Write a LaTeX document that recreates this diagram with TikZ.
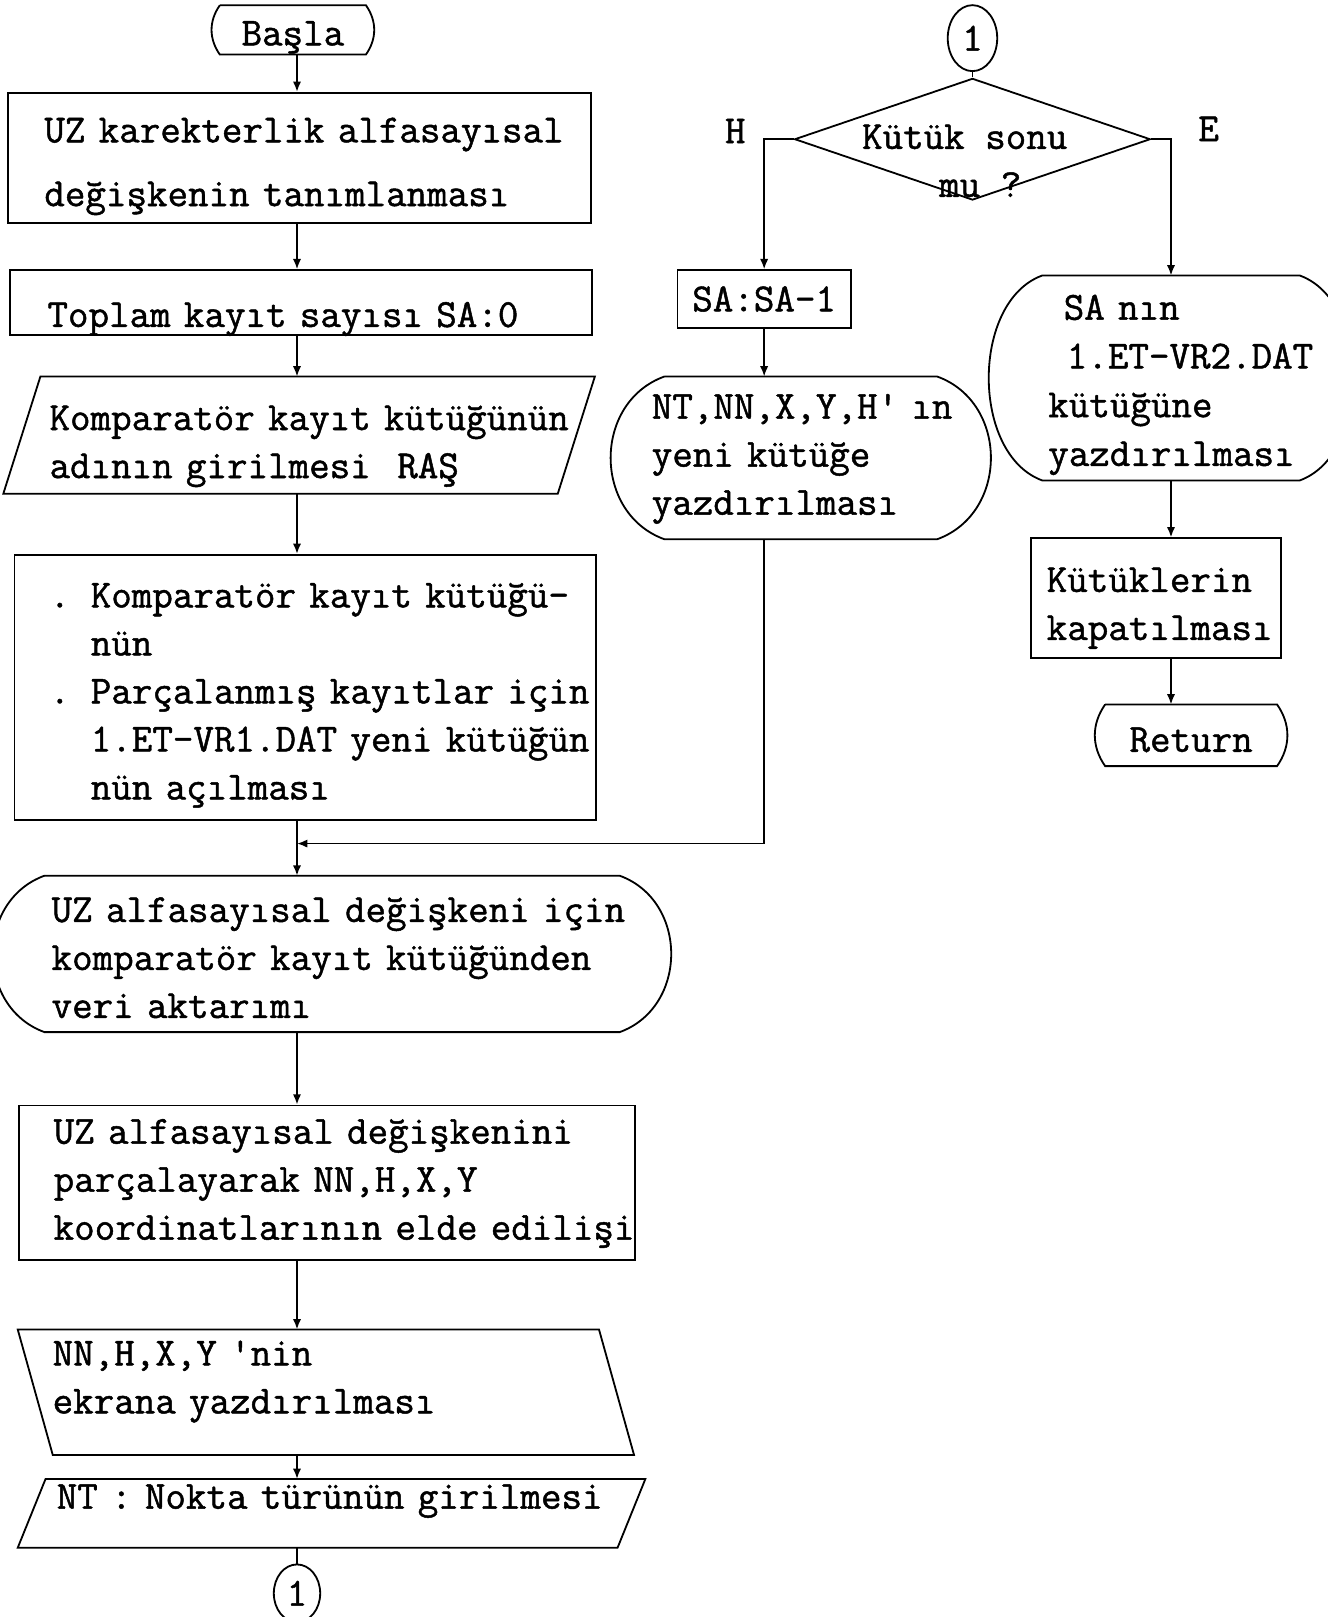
\documentclass[tikz,border=0pt]{standalone}
\usepackage{fontspec}
\setmonofont{lmmono12-regular.otf}[FakeBold=1.2]
\usepackage{tikz}
\usetikzlibrary{arrows.meta, shapes.geometric}

\begin{document}
\begin{tikzpicture}[x=0.02cm, y=-0.02cm, line width=1pt,
	font=\ttfamily\fontsize{22}{26.5}\selectfont,
	kutu/.style={draw, rectangle, align=left, inner ysep=0pt},
	serbest/.style={rectangle, align=left, inner ysep=0pt},
	uc/.style={rectangle, inner sep=0pt},
	baglac/.style={draw, ellipse, inner sep=0pt},
	ok/.style={-{Latex[length=2mm, width=1.6mm]}}]
	\useasboundingbox (0,0) rectangle (1287,1568);
	\coordinate (eksen) at (288,0);
	% left column
	\node[uc, minimum width=2.8cm, minimum height=0.92cm, text height=0.7cm, text depth=0.1cm] (basla) at (284,29) {Başla};
	\draw (basla.north west) -- (basla.north east) to[bend left=35] (basla.south east) -- (basla.south west) to[bend left=35] (basla.north west);
	\node[kutu, text width=9.9cm, inner xsep=0.7cm, minimum height=2.52cm, text height=0.84cm, text depth=1.44cm, font=\ttfamily\fontsize{22}{35.2}\selectfont] (tanim) at (290.5,153) {\mbox{UZ karekterlik alfasayısal}\\değişkenin tanımlanması};
	\node[kutu, text width=9.84cm, inner xsep=0.72cm, minimum height=1.26cm, text height=1.04cm, text depth=0.1cm] (kayitsay) at (292,293.5) {Toplam kayıt sayısı SA:0};
	\node[serbest, text width=9.68cm, inner xsep=0.52cm, minimum height=2.24cm, text height=0.93cm, text depth=1.13cm] (kayitadi) at (290,422) {\mbox{Komparatör kayıt kütüğünün}\\adının girilmesi~~RAŞ};
	\draw ([xshift=0.36cm]kayitadi.north west) -- ([xshift=0.36cm]kayitadi.north east) -- ([xshift=-0.36cm]kayitadi.south east) -- ([xshift=-0.36cm]kayitadi.south west) -- cycle;
	\node[kutu, text width=9.92cm, inner xsep=0.68cm, minimum height=5.14cm, text height=0.83cm, text depth=3.93cm] (acilis) at (296,666.5) {\mbox{\makebox[0.8cm][l]{.}Komparatör kayıt kütüğü-}\\\mbox{\hspace*{0.8cm}nün}\\\mbox{\makebox[0.8cm][l]{.}Parçalanmış kayıtlar için}\\\mbox{\hspace*{0.8cm}1.ET-VR1.DAT yeni kütüğün}\\\mbox{\hspace*{0.8cm}nün açılması}};
	\node[serbest, text width=10.88cm, inner xsep=0.12cm, minimum height=3cm, text height=0.82cm, text depth=2.06cm] (veri) at (322,925) {\mbox{UZ alfasayısal değişkeni için}\\\mbox{komparatör kayıt kütüğünden}\\veri aktarımı};
	\draw (veri.north west) -- (veri.north east) to[bend left=70, looseness=1.2] (veri.south east) -- (veri.south west) to[bend left=70, looseness=1.2] (veri.north west);
	\node[kutu, text width=10.6cm, inner xsep=0.68cm, minimum height=3cm, text height=0.54cm, text depth=2.06cm] (ayir) at (317,1147) {\mbox{UZ alfasayısal değişkenini}\\parçalayarak NN,H,X,Y\\\mbox{koordinatlarının elde edilişi}};
	\node[serbest, text width=10.6cm, inner xsep=0.32cm, minimum height=2.4cm, text height=0.09cm, text depth=1.13cm] (ekran) at (316,1350) {NN,H,X,Y 'nin\\ekrana yazdırılması};
	\draw ([xshift=-0.34cm]ekran.north west) -- ([xshift=-0.34cm]ekran.north east) -- ([xshift=0.34cm]ekran.south east) -- ([xshift=0.34cm]ekran.south west) -- cycle;
	\node[serbest, text width=10.66cm, inner xsep=0.47cm, minimum height=1.3cm, text height=0.02cm, text depth=0.2cm] (nt) at (321.5,1467.5) {\mbox{NT : Nokta türünün girilmesi}};
	\draw ([xshift=0.27cm]nt.north west) -- ([xshift=0.27cm]nt.north east) -- ([xshift=-0.27cm]nt.south east) -- ([xshift=-0.27cm]nt.south west) -- cycle;
	\node[baglac, minimum width=0.9cm, minimum height=1.12cm] (baglac2) at (288,1545) {1};
	% right column
	\node[baglac, minimum width=0.96cm, minimum height=1.28cm] (baglac1) at (943,37) {1};
	\node[draw, diamond, minimum width=6.9cm, minimum height=2.36cm, inner sep=0pt, label={[align=center, yshift=-0.42cm]center:Kütük sonu\hspace*{0.3cm}\\\hspace*{0.3cm}mu ?}] (kosul) at (943,135) {};
	\node (hayir) at (713,127) {H};
	\node (evet) at (1172,125) {E};
	\node[kutu, minimum width=3.36cm, minimum height=1.12cm] (sasa) at (741,290) {SA:SA-1};
	\node[serbest, text width=5.78cm, inner xsep=-0.26cm, minimum height=3.12cm, text height=0.54cm, text depth=2.06cm] (ntyeni) at (776.5,444) {\mbox{NT,NN,X,Y,H' ın}\\yeni kütüğe\\yazdırılması};
	\draw (ntyeni.north west) -- (ntyeni.north east) to[bend left=70, looseness=1.2] (ntyeni.south east) -- (ntyeni.south west) to[bend left=70, looseness=1.2] (ntyeni.north west);
	\node[serbest, text width=4.76cm, inner xsep=0.1cm, minimum height=3.94cm, text height=0.78cm, text depth=3.04cm, font=\ttfamily\fontsize{22}{26.9}\selectfont] (sanin) at (1135.5,366.5) {\hspace*{0.3cm}SA nın\\\mbox{\hspace*{0.36cm}1.ET-VR2.DAT}\\kütüğüne\\\mbox{yazdırılması}};
	\draw (sanin.north west) -- (sanin.north east) to[bend left=70, looseness=0.95] (sanin.south east) -- (sanin.south west) to[bend left=70, looseness=0.95] (sanin.north west);
	\node[kutu, text width=4.24cm, inner xsep=0.3cm, minimum height=2.32cm, text height=0.89cm, text depth=1.13cm] (kapat) at (1121,580) {Kütüklerin\\\mbox{kapatılması}};
	\node[uc, minimum width=3.3cm, minimum height=1.16cm, text height=0.84cm, text depth=0.2cm] (donus) at (1155,713) {Return};
	\draw (donus.north west) -- (donus.north east) to[bend left=35] (donus.south east) -- (donus.south west) to[bend left=35] (donus.north west);
	% connectors
	\draw[ok] (basla.south -| eksen) -- (tanim.north -| eksen);
	\draw[ok] (tanim.south -| eksen) -- (kayitsay.north -| eksen);
	\draw[ok] (kayitsay.south -| eksen) -- (kayitadi.north -| eksen);
	\draw[ok] (kayitadi.south -| eksen) -- (acilis.north -| eksen);
	\draw[ok] (acilis.south -| eksen) -- (veri.north -| eksen);
	\draw[ok] (veri.south -| eksen) -- (ayir.north -| eksen);
	\draw[ok] (ayir.south -| eksen) -- (ekran.north -| eksen);
	\draw[ok] (ekran.south -| eksen) -- (nt.north -| eksen);
	\draw (nt.south -| eksen) -- (baglac2);
	\draw (baglac1) -- (kosul);
	\draw[ok] (kosul.west) -| (sasa.north);
	\draw[ok] (kosul.east) -| (sanin.north);
	\draw[ok] (sasa) -- (sasa.south |- ntyeni.north);
	\coordinate (birles) at (288,818);
	\draw[ok] (ntyeni.south -| sasa) |- (birles);
	\draw[ok] (sanin.south) -- (sanin.south |- kapat.north);
	\draw[ok] (sanin.south |- kapat.south) -- (sanin.south |- donus.north);
\end{tikzpicture}
\end{document}
